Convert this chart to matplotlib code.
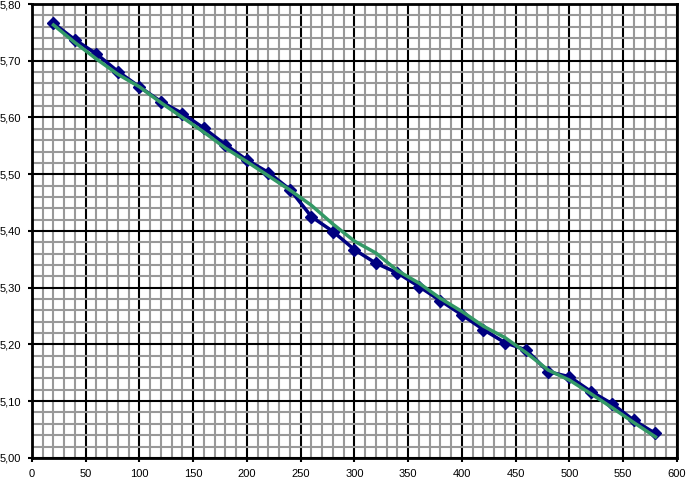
import matplotlib
matplotlib.use("Agg")
import matplotlib.pyplot as plt
from matplotlib.ticker import MultipleLocator, FuncFormatter

# meetpunten (blauw) en afgevlakte lijn (groen)
x_vals = list(range(20, 600, 20))
measured = [5.766, 5.737, 5.712, 5.681, 5.654, 5.628, 5.607, 5.581, 5.552,
            5.525, 5.503, 5.473, 5.425, 5.399, 5.367, 5.343, 5.326, 5.302,
            5.277, 5.252, 5.226, 5.203, 5.190, 5.152, 5.143, 5.117, 5.095,
            5.066, 5.043]
smoothed = [5.763, 5.732, 5.703, 5.676, 5.654, 5.626, 5.600, 5.574, 5.546,
            5.522, 5.497, 5.472, 5.445, 5.412, 5.382, 5.361, 5.330, 5.308,
            5.281, 5.258, 5.232, 5.212, 5.185, 5.155, 5.137, 5.113, 5.088,
            5.062, 5.037]

plt.rcParams['font.family'] = ['Liberation Sans', 'DejaVu Sans']

fig = plt.figure(figsize=(6.88, 4.83), dpi=100)
ax = fig.add_axes([0.0465, 0.052, 0.9375, 0.9397])

ax.plot(x_vals, measured, color="#000080", linewidth=2.5, marker="D",
        markersize=6, zorder=3)
ax.plot(x_vals, smoothed, color="#339966", linewidth=2.5, zorder=4)

ax.set_xlim(0, 600)
ax.set_ylim(5.0, 5.8)
ax.xaxis.set_major_locator(MultipleLocator(50))
ax.xaxis.set_minor_locator(MultipleLocator(10))
ax.yaxis.set_major_locator(MultipleLocator(0.1))
ax.yaxis.set_minor_locator(MultipleLocator(0.02))
ax.yaxis.set_major_formatter(FuncFormatter(lambda v, p: f"{v:.2f}".replace(".", ",")))

ax.grid(which="minor", color="#999999", linewidth=1.5, zorder=1)
ax.grid(which="major", color="black", linewidth=1.5, zorder=2)
ax.set_axisbelow(True)

for s in ax.spines.values():
    s.set_linewidth(2)
    s.set_color("black")

ax.tick_params(which="major", direction="out", length=3, width=1.5,
               labelsize=8, pad=5)
ax.tick_params(which="minor", length=0)

fig.savefig("out.png", dpi=100)
